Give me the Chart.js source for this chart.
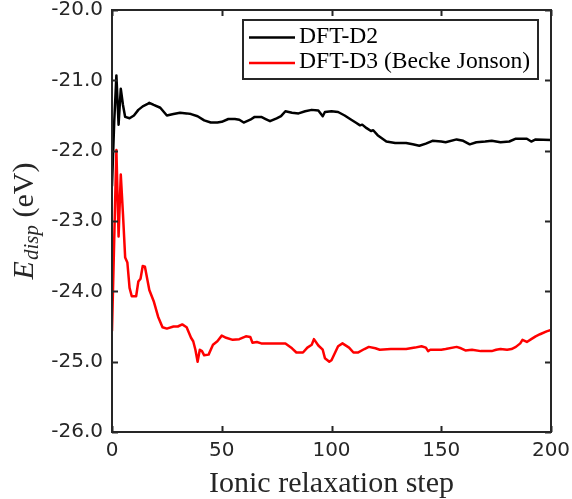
<!DOCTYPE html>
<html>
<head>
<meta charset="utf-8">
<script src="https://cdn.jsdelivr.net/npm/chart.js@4"></script>
<style>
  html, body { margin: 0; padding: 0; background: #ffffff; }
  #wrap { width: 572px; height: 499px; position: relative; }
</style>
</head>
<body>
<div id="wrap"><canvas id="c"></canvas></div>
<script>
// Dispersion energy along the ionic relaxation, two correction schemes
const seriesNames = ['DFT-D2', 'DFT-D3 (Becke Jonson)'];
const seriesColors = ['#000000', '#ff0000'];

const stepsD2 = [0, 1, 2, 3, 4, 5, 6, 8, 10, 12, 14, 16, 17, 19, 22, 25, 28, 31, 34, 36, 39, 42, 45, 48, 50,
  53, 56, 58, 60, 63, 65, 68, 70, 72, 75, 77, 79, 82, 85, 88, 91, 94, 96, 97, 100, 103, 106, 109, 111,
  113, 114, 116, 118, 119, 121, 125, 129, 134, 137, 140, 143, 146, 150, 152, 157, 160, 163, 166, 170,
  173, 177, 181, 184, 189, 191, 193, 200];
const energyD2 = [-22.50, -21.60, -20.93, -21.63, -21.12, -21.35, -21.52, -21.54, -21.50, -21.42, -21.37,
  -21.34, -21.32, -21.35, -21.39, -21.50, -21.48, -21.46, -21.47, -21.48, -21.51, -21.57, -21.60, -21.60,
  -21.59, -21.55, -21.55, -21.56, -21.60, -21.56, -21.52, -21.52, -21.55, -21.58, -21.54, -21.51, -21.44,
  -21.46, -21.47, -21.44, -21.42, -21.43, -21.51, -21.45, -21.44, -21.45, -21.50, -21.56, -21.60, -21.64,
  -21.63, -21.68, -21.72, -21.71, -21.78, -21.87, -21.89, -21.89, -21.91, -21.93, -21.90, -21.86, -21.87,
  -21.88, -21.84, -21.86, -21.91, -21.88, -21.87, -21.86, -21.88, -21.87, -21.83, -21.83, -21.87, -21.84,
  -21.85];

const stepsD3 = [0, 2, 3, 4, 5, 6, 7, 8, 9, 11, 12, 13, 14, 15, 17, 19, 21, 23, 25, 28, 30, 32, 34, 36, 37,
  38, 39, 40, 41, 42, 44, 46, 48, 50, 52, 55, 58, 61, 63, 64, 66, 68, 72, 76, 79, 82, 84, 87, 89, 91, 92,
  94, 96, 97, 99, 100, 103, 105, 108, 110, 112, 115, 117, 120, 122, 127, 134, 138, 141, 143, 144, 145,
  150, 152, 157, 159, 161, 164, 168, 173, 175, 177, 180, 182, 184, 186, 187, 189, 191, 193, 195, 198, 200];
const energyD3 = [-24.56, -21.99, -23.22, -22.34, -22.90, -23.52, -23.59, -23.95, -24.07, -24.07, -23.86,
  -23.82, -23.64, -23.65, -23.98, -24.14, -24.36, -24.51, -24.53, -24.50, -24.50, -24.47, -24.51, -24.66,
  -24.71, -24.83, -25.00, -24.83, -24.85, -24.91, -24.90, -24.76, -24.71, -24.63, -24.66, -24.69, -24.68,
  -24.64, -24.65, -24.73, -24.72, -24.74, -24.74, -24.74, -24.74, -24.81, -24.87, -24.87, -24.80, -24.76,
  -24.68, -24.77, -24.83, -24.95, -25.00, -24.98, -24.78, -24.74, -24.80, -24.87, -24.87, -24.82, -24.79,
  -24.81, -24.83, -24.82, -24.82, -24.80, -24.78, -24.80, -24.85, -24.83, -24.83, -24.82, -24.79, -24.81,
  -24.84, -24.83, -24.85, -24.85, -24.83, -24.82, -24.83, -24.82, -24.79, -24.74, -24.69, -24.72, -24.68,
  -24.64, -24.61, -24.57, -24.55];

const xTicks = [0, 50, 100, 150, 200];
const yTicks = [-26, -25, -24, -23, -22, -21, -20];

const axisColor = '#262626';
const tickFont = { family: 'DejaVu Sans', size: 20 };
const serif = 'Liberation Serif';

const toPoints = (xs, ys) => xs.map((x, i) => ({ x: x, y: ys[i] }));

// Box frame with inward tick marks on all four sides
const framePlugin = {
  id: 'frame',
  afterDatasetsDraw(chart) {
    const { ctx, chartArea: a, scales } = chart;
    ctx.save();
    ctx.strokeStyle = axisColor;
    ctx.lineWidth = 2;
    const len = 6;
    ctx.beginPath();
    xTicks.forEach(v => {
      const px = Math.round(scales.x.getPixelForValue(v)) + 0.5;
      ctx.moveTo(px, a.bottom); ctx.lineTo(px, a.bottom - len);
      ctx.moveTo(px, a.top); ctx.lineTo(px, a.top + len);
    });
    yTicks.forEach(v => {
      const py = Math.round(scales.y.getPixelForValue(v)) + 0.5;
      ctx.moveTo(a.left, py); ctx.lineTo(a.left + len, py);
      ctx.moveTo(a.right, py); ctx.lineTo(a.right - len, py);
    });
    ctx.stroke();
    ctx.strokeRect(a.left, a.top, a.right - a.left, a.bottom - a.top);
    ctx.restore();
  }
};

// Legend box in the upper right of the plot
const legendPlugin = {
  id: 'boxLegend',
  afterDraw(chart) {
    const { ctx } = chart;
    const box = { x: 243, y: 20, w: 295, h: 59 };
    ctx.save();
    ctx.fillStyle = '#ffffff';
    ctx.fillRect(box.x, box.y, box.w, box.h);
    ctx.strokeStyle = axisColor;
    ctx.lineWidth = 2;
    ctx.strokeRect(box.x, box.y, box.w, box.h);
    const rows = [37.5, 63];
    chart.data.datasets.forEach((ds, i) => {
      ctx.strokeStyle = ds.borderColor;
      ctx.lineWidth = 2.5;
      ctx.beginPath();
      ctx.moveTo(box.x + 6, rows[i]);
      ctx.lineTo(box.x + 52, rows[i]);
      ctx.stroke();
      ctx.fillStyle = '#000000';
      ctx.font = '23.6px "' + serif + '"';
      ctx.textBaseline = 'alphabetic';
      ctx.textAlign = 'left';
      ctx.fillText(ds.label, box.x + 56, rows[i] + 5);
    });
    ctx.restore();
  }
};

// Axis titles: E with subscript "disp", and the step label
const titlePlugin = {
  id: 'axisTitles',
  afterDraw(chart) {
    const { ctx, chartArea: a } = chart;
    ctx.save();
    ctx.fillStyle = axisColor;
    ctx.textBaseline = 'alphabetic';
    ctx.textAlign = 'left';

    // horizontal title
    ctx.font = '30px "' + serif + '"';
    const xt = 'Ionic relaxation step';
    const xw = ctx.measureText(xt).width;
    ctx.fillText(xt, (a.left + a.right) / 2 - xw / 2, 492);

    // vertical title
    const mainFont = 'italic 30px "' + serif + '"';
    const subFont = 'italic 21px "' + serif + '"';
    const restFont = '30px "' + serif + '"';
    ctx.font = mainFont; const wE = ctx.measureText('E').width;
    ctx.font = subFont; const wS = ctx.measureText('disp').width;
    ctx.font = restFont; const wR = ctx.measureText(' (eV)').width;
    const total = wE + 1 + wS + wR;
    ctx.translate(33, (a.top + a.bottom) / 2);
    ctx.rotate(-Math.PI / 2);
    let x = -total / 2;
    ctx.font = mainFont; ctx.fillText('E', x, 0); x += wE + 1;
    ctx.font = subFont; ctx.fillText('disp', x, 5); x += wS;
    ctx.font = restFont; ctx.fillText(' (eV)', x, 0);
    ctx.restore();
  }
};

new Chart(document.getElementById('c'), {
  type: 'line',
  data: {
    datasets: [
      { label: seriesNames[0], data: toPoints(stepsD2, energyD2), borderColor: seriesColors[0] },
      { label: seriesNames[1], data: toPoints(stepsD3, energyD3), borderColor: seriesColors[1] }
    ]
  },
  options: {
    responsive: true,
    maintainAspectRatio: false,
    animation: false,
    devicePixelRatio: 1,
    layout: { padding: { top: 10, right: 21, left: 0, bottom: 0 } },
    elements: {
      point: { radius: 0 },
      line: { borderWidth: 2.5, tension: 0, fill: false, borderJoinStyle: 'round', borderCapStyle: 'round' }
    },
    plugins: { legend: { display: false }, tooltip: { enabled: false } },
    scales: {
      x: {
        type: 'linear', min: 0, max: 200,
        afterBuildTicks: s => { s.ticks = xTicks.map(v => ({ value: v })); },
        afterFit: s => { s.height = 67; s.paddingLeft = 0; s.paddingRight = 0; },
        grid: { display: false, drawTicks: false },
        border: { display: false },
        ticks: { font: tickFont, color: axisColor, padding: 7, maxRotation: 0 }
      },
      y: {
        type: 'linear', min: -26, max: -20,
        afterBuildTicks: s => { s.ticks = yTicks.map(v => ({ value: v })); },
        afterFit: s => { s.width = 112; s.paddingTop = 0; s.paddingBottom = 0; },
        grid: { display: false, drawTicks: false },
        border: { display: false },
        ticks: { font: tickFont, color: axisColor, padding: 9, callback: v => v.toFixed(1) }
      }
    }
  },
  plugins: [framePlugin, legendPlugin, titlePlugin]
});
</script>
</body>
</html>
